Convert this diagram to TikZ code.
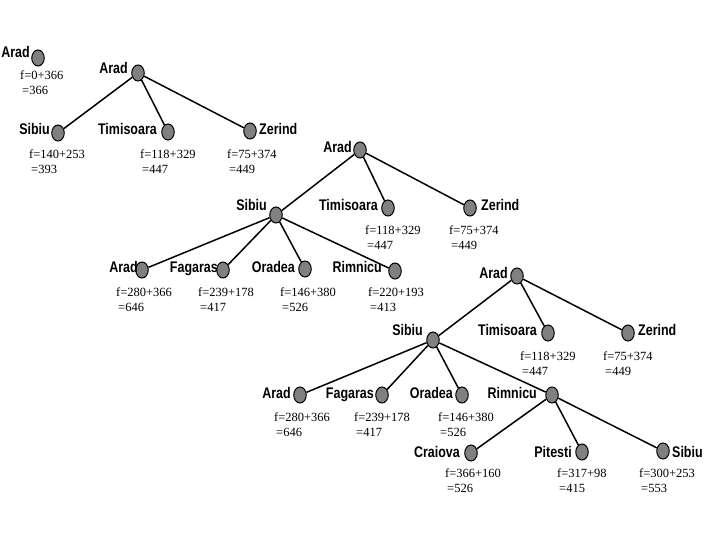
\documentclass[tikz,border=0pt]{standalone}
\usepackage{fontspec}
\setmainfont{Liberation Serif}
\newfontfamily\cityfont{Liberation Sans}[FakeStretch=0.81]
\newfontfamily\ffont{Liberation Serif}
\usetikzlibrary{shapes.geometric}
\begin{document}
\begin{tikzpicture}[x=1pt,y=-1pt,
 dot/.style={ellipse, draw=black, line width=1pt, fill=gray, minimum width=12.5pt, minimum height=16pt, inner sep=0pt},
 edge/.style={line width=1.5pt},
 city/.style={font=\cityfont\bfseries\fontsize{15.4}{16}\selectfont, inner sep=0pt, text height=11pt, text depth=0pt},
 cityL/.style={city, anchor=east},
 cityR/.style={city, anchor=west},
 fval/.style={font=\ffont\fontsize{12.5}{15}\selectfont, inner sep=0pt, anchor=north west, align=left}
]
\useasboundingbox (0,0) rectangle (720,540);

% ---------- tree 1
\node[dot] (a0) at (38,58) {};
\node[cityL] (la0) at (30,52) {Arad};
\node[fval] (fa0) at (20,71) {f=0+366\\\hspace*{2pt}=366};

% ---------- tree 2
\node[dot] (b) at (138,73) {};
\node[dot] (bS) at (58,133) {};
\node[dot] (bT) at (168,132) {};
\node[dot] (bZ) at (250,131) {};
\draw[edge] (b) -- (bS);
\draw[edge] (b) -- (bT);
\draw[edge] (b) -- (bZ);
\node[cityL] (lb) at (128,68) {Arad};
\node[cityL] (lbS) at (50,129) {Sibiu};
\node[cityL] (lbT) at (157,129) {Timisoara};
\node[cityR] (lbZ) at (259,129) {Zerind};
\node[fval] (fbS) at (29,149) {f=140+253\\\hspace*{2pt}=393};
\node[fval] (fbT) at (140,149) {f=118+329\\\hspace*{2pt}=447};
\node[fval] (fbZ) at (227,149) {f=75+374\\\hspace*{2pt}=449};

% ---------- tree 3
\node[dot] (c) at (360,150) {};
\node[dot] (cS) at (276,215) {};
\node[dot] (cT) at (388,208) {};
\node[dot] (cZ) at (470,208) {};
\node[dot] (cA) at (142,270) {};
\node[dot] (cF) at (223,270) {};
\node[dot] (cO) at (305,269) {};
\node[dot] (cR) at (395,271) {};
\draw[edge] (c) -- (cS);
\draw[edge] (c) -- (cT);
\draw[edge] (c) -- (cZ);
\draw[edge] (cS) -- (cA);
\draw[edge] (cS) -- (cF);
\draw[edge] (cS) -- (cO);
\draw[edge] (cS) -- (cR);
\node[cityL] (lc) at (352,147) {Arad};
\node[cityL] (lcS) at (267,205) {Sibiu};
\node[cityL] (lcT) at (378,205) {Timisoara};
\node[cityR] (lcZ) at (481,205) {Zerind};
\node[cityL] (lcA) at (138,267) {Arad};
\node[cityL] (lcF) at (218,267) {Fagaras};
\node[cityL] (lcO) at (295,267) {Oradea};
\node[cityL] (lcR) at (382,267) {Rimnicu};
\node[fval] (fcT) at (365,225) {f=118+329\\\hspace*{2pt}=447};
\node[fval] (fcZ) at (449,225) {f=75+374\\\hspace*{2pt}=449};
\node[fval] (fcA) at (116,287) {f=280+366\\\hspace*{2pt}=646};
\node[fval] (fcF) at (198,287) {f=239+178\\\hspace*{2pt}=417};
\node[fval] (fcO) at (280,287) {f=146+380\\\hspace*{2pt}=526};
\node[fval] (fcR) at (368,287) {f=220+193\\\hspace*{2pt}=413};

% ---------- tree 4
\node[dot] (d) at (517,276) {};
\node[dot] (dS) at (433,340) {};
\node[dot] (dT) at (548,333) {};
\node[dot] (dZ) at (628,333) {};
\node[dot] (dA) at (300,395) {};
\node[dot] (dF) at (382,395) {};
\node[dot] (dO) at (462,395) {};
\node[dot] (dR) at (552,395) {};
\node[dot] (dC) at (471,453) {};
\node[dot] (dP) at (582,452) {};
\node[dot] (dSi) at (663,451) {};
\draw[edge] (d) -- (dS);
\draw[edge] (d) -- (dT);
\draw[edge] (d) -- (dZ);
\draw[edge] (dS) -- (dA);
\draw[edge] (dS) -- (dF);
\draw[edge] (dS) -- (dO);
\draw[edge] (dS) -- (dR);
\draw[edge] (dR) -- (dC);
\draw[edge] (dR) -- (dP);
\draw[edge] (dR) -- (dSi);
\node[cityL] (ld) at (508,273) {Arad};
\node[cityL] (ldS) at (423,330) {Sibiu};
\node[cityL] (ldT) at (537,330) {Timisoara};
\node[cityR] (ldZ) at (638,330) {Zerind};
\node[cityL] (ldA) at (291,393) {Arad};
\node[cityL] (ldF) at (374,393) {Fagaras};
\node[cityL] (ldO) at (453,393) {Oradea};
\node[cityL] (ldR) at (537,393) {Rimnicu};
\node[cityL] (ldC) at (460,452) {Craiova};
\node[cityL] (ldP) at (572,452) {Pitesti};
\node[cityR] (ldSi) at (672,452) {Sibiu};
\node[fval] (fdT) at (520,351) {f=118+329\\\hspace*{2pt}=447};
\node[fval] (fdZ) at (603,351) {f=75+374\\\hspace*{2pt}=449};
\node[fval] (fdA) at (274,412) {f=280+366\\\hspace*{2pt}=646};
\node[fval] (fdF) at (354,412) {f=239+178\\\hspace*{2pt}=417};
\node[fval] (fdO) at (438,412) {f=146+380\\\hspace*{2pt}=526};
\node[fval] (fdC) at (445,468) {f=366+160\\\hspace*{2pt}=526};
\node[fval] (fdP) at (557,468) {f=317+98\\\hspace*{2pt}=415};
\node[fval] (fdSi) at (639,468) {f=300+253\\\hspace*{2pt}=553};
\end{tikzpicture}
\end{document}
